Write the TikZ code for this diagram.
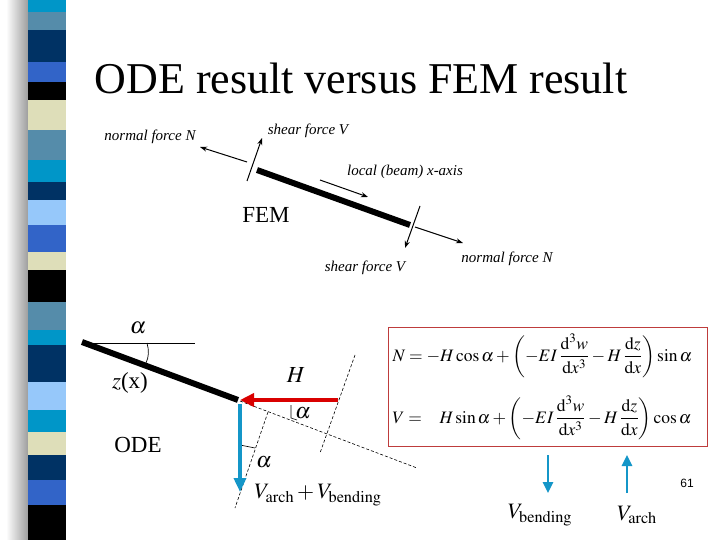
\documentclass[tikz,border=0pt]{standalone}
\usepackage{amsmath}
\usepackage{mathptmx}
\usepackage{fontspec}
\setmainfont{Liberation Serif}
\newfontfamily\sansf{Liberation Sans}
\usetikzlibrary{arrows.meta}
\definecolor{cy}{RGB}{0,150,200}
\definecolor{sb}{RGB}{85,140,170}
\definecolor{nv}{RGB}{0,50,100}
\definecolor{rb}{RGB}{50,100,200}
\definecolor{bg}{RGB}{222,222,185}
\definecolor{lb}{RGB}{150,200,250}
\definecolor{bluea}{RGB}{20,150,200}
\definecolor{boxred}{RGB}{190,60,60}
\tikzset{lab/.style={font=\fontsize{15}{17}\selectfont\itshape},
 farr/.style={-{Stealth[length=7pt,width=5pt]},line width=1pt},
 dsh/.style={dash pattern=on 3pt off 2pt,line width=0.6pt}}
\begin{document}
\begin{tikzpicture}[x=1pt,y=-1pt]
\useasboundingbox (0,0) rectangle (720,540);
\fill[white] (0,0) rectangle (720,540);
% stripe shadow
\shade[left color=white,right color=gray!80] (6,0) rectangle (29,540);
\foreach \a/\b/\c in {0/12/cy,12/30/sb,30/62/nv,62/82/rb,82/100/black,100/130/bg,130/160/sb,160/182/cy,182/200/nv,200/225/lb,225/252/rb,252/270/bg,270/302/black,302/330/sb,330/345/cy,345/382/nv,382/410/lb,410/432/cy,432/455/bg,455/480/nv,480/505/rb,505/540/black}
  \fill[\c] (28,\a) rectangle (66,\b);
\node[font=\fontsize{44}{48}\selectfont] (title) at (361,78) {ODE result versus FEM result};
% FEM
\coordinate (b1) at (257,170); \coordinate (b2) at (410,225);
\draw[line width=6pt] (b1) -- (b2);
\coordinate (t1a) at (247,181); \coordinate (t1b) at (262,138);
\draw[farr] (t1a) -- (t1b);
\coordinate (n1a) at (247,162); \coordinate (n1b) at (200,147);
\draw[farr] (n1a) -- (n1b);
\coordinate (t2a) at (420,206); \coordinate (t2b) at (405,248);
\draw[farr] (t2a) -- (t2b);
\coordinate (n2a) at (415,227); \coordinate (n2b) at (463,243);
\draw[farr] (n2a) -- (n2b);
\coordinate (xa) at (320,180); \coordinate (xb) at (368,197);
\draw[farr] (xa) -- (xb);
\node[lab] (lN1) at (150,137) {normal force N};
\node[lab] (lV1) at (308,131) {shear force V};
\node[lab] (lx) at (405,172) {local (beam) x-axis};
\node[font=\fontsize{23}{26}\selectfont] (fem) at (266,215) {FEM};
\node[lab] (lV2) at (365,268) {shear force V};
\node[lab] (lN2) at (507,259) {normal force N};
% ODE
\coordinate (o1) at (82,342); \coordinate (o2) at (238,400);
\draw[line width=6pt] (o1) -- (o2);
\coordinate (hz) at (195,343);
\draw[line width=0.7pt] (83,343) -- (hz);
\draw[line width=0.7pt] (147,343) .. controls (149,350) and (149,357) .. (146,363);
\node[font=\fontsize{23}{26}\selectfont] (al1) at (138,328) {$\alpha$};
\node[font=\fontsize{23}{26}\selectfont] (zx) at (130,383) {$z$(x)};
\node[font=\fontsize{23}{26}\selectfont] (ode) at (138,445) {ODE};
\draw[dsh] (240,401) -- (417,468);
\draw[dsh] (355,355) -- (320,453);
\draw[dsh] (268,412) -- (235,508);
\draw[line width=0.6pt] (291,405) -- (291,418) -- (297,420);
\node[font=\fontsize{22}{24}\selectfont] at (303,413) {$\alpha$};
\draw[line width=0.6pt] (240,445) -- (255,448);
\node[font=\fontsize{22}{24}\selectfont] at (264,462) {$\alpha$};
\coordinate (ha) at (338,400); \coordinate (hb) at (240,400);
\draw[red!85!black,line width=4.5pt,-{Triangle[length=14pt,width=13pt]}] (ha) -- (hb);
\coordinate (va) at (240,404); \coordinate (vb) at (240,492);
\draw[bluea,line width=4.5pt,-{Triangle[length=14pt,width=12pt]}] (va) -- (vb);
\node[font=\fontsize{23}{26}\selectfont] (H) at (296,375) {$H$};
\node[font=\fontsize{22}{24}\selectfont] (vsum) at (318,495) {$V_{\mathrm{arch}}+V_{\mathrm{bending}}$};
% box
\draw[boxred,line width=0.8pt] (388,327) rectangle (707,446);
\node[anchor=west,font=\fontsize{17.5}{20}\selectfont] (eqN) at (389,356) {$N=-H\cos\alpha+\left(-EI\,\dfrac{\mathrm{d}^3w}{\mathrm{d}x^3}-H\,\dfrac{\mathrm{d}z}{\mathrm{d}x}\right)\sin\alpha$};
\node[anchor=west,font=\fontsize{17.5}{20}\selectfont] (eqV) at (389,418) {$V=\phantom{-}H\sin\alpha+\left(-EI\,\dfrac{\mathrm{d}^3w}{\mathrm{d}x^3}-H\,\dfrac{\mathrm{d}z}{\mathrm{d}x}\right)\cos\alpha$};
\coordinate (ba) at (548,455); \coordinate (bb) at (548,493);
\draw[bluea,line width=2.5pt,-{Triangle[length=11pt,width=10pt]}] (ba) -- (bb);
\coordinate (ca) at (627,493); \coordinate (cb) at (627,455);
\draw[bluea,line width=2.5pt,-{Triangle[length=11pt,width=10pt]}] (ca) -- (cb);
\node[font=\fontsize{22}{24}\selectfont] (vb2) at (540,515) {$V_{\mathrm{bending}}$};
\node[font=\fontsize{22}{24}\selectfont] (va2) at (637,515) {$V_{\mathrm{arch}}$};
\node[font=\sansf\fontsize{12}{14}\selectfont] (pg) at (687,483) {61};
\end{tikzpicture}
\end{document}
